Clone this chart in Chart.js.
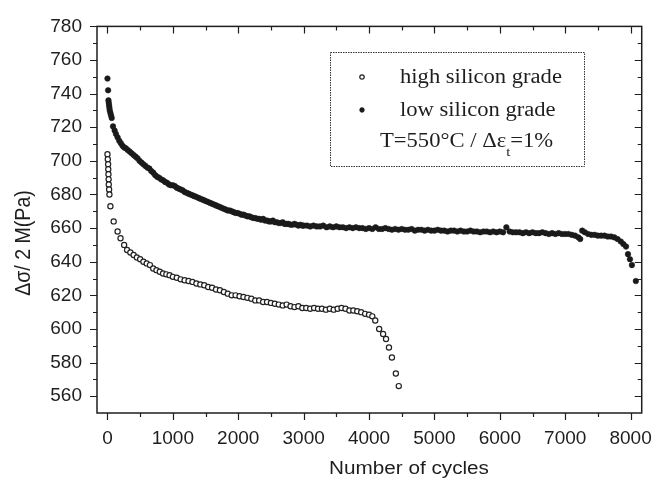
<!DOCTYPE html>
<html>
<head>
<meta charset="utf-8">
<script src="https://cdn.jsdelivr.net/npm/chart.js@4/dist/chart.umd.min.js"></script>
<style>
  body { margin: 0; background: #fff; }
  #myChart { display: block; }
</style>
</head>
<body>
<canvas id="myChart" width="666" height="484"></canvas>
<script>
// values
const lowCycles = [0, 10, 15, 20, 25, 30, 35, 45, 55, 65, 85, 110, 130, 155, 180, 205, 230, 255, 280, 310,
  340, 370, 400, 430, 460, 490, 520, 550, 580, 610, 640, 670, 700, 730, 760, 790, 820, 850, 880, 910,
  940, 970, 1000, 1030, 1060, 1090, 1120, 1150, 1180, 1210, 1240, 1270, 1300, 1330, 1360, 1390, 1420, 1450, 1480, 1510,
  1540, 1570, 1600, 1630, 1660, 1690, 1720, 1750, 1780, 1810, 1840, 1870, 1900, 1930, 1960, 1990, 2020, 2050, 2080, 2110,
  2140, 2170, 2200, 2230, 2260, 2290, 2320, 2350, 2380, 2410, 2440, 2470, 2500, 2530, 2560, 2590, 2620, 2650, 2680, 2710,
  2740, 2770, 2800, 2830, 2860, 2890, 2920, 2950, 2980, 3000, 3050, 3100, 3150, 3200, 3250, 3300, 3350, 3400, 3450, 3500,
  3550, 3600, 3650, 3700, 3750, 3800, 3850, 3900, 3950, 4000, 4050, 4100, 4150, 4200, 4250, 4300, 4350, 4400, 4450, 4500,
  4550, 4600, 4650, 4700, 4750, 4800, 4850, 4900, 4950, 5000, 5050, 5100, 5150, 5200, 5250, 5300, 5350, 5400, 5450, 5500,
  5550, 5600, 5650, 5700, 5750, 5800, 5850, 5900, 5950, 6000, 6050, 6100, 6150, 6200, 6250, 6300, 6350, 6400, 6450, 6500,
  6550, 6600, 6650, 6700, 6750, 6800, 6850, 6900, 6950, 7000, 7050, 7100, 7150, 7200, 7230, 7260, 7300, 7350, 7400, 7450,
  7500, 7550, 7600, 7650, 7700, 7750, 7800, 7850, 7890, 7930, 7960, 7990, 8020, 8080];
const lowStress = [749, 742, 736, 734.5, 733, 731.5, 730, 728.5, 727, 725.5, 720.5, 718, 716, 714, 712, 710.5, 709, 708, 707.5, 706.5,
  705.5, 704.5, 703.5, 702.5, 701.5, 700, 699, 698, 697, 696, 695.5, 694, 693, 691.5, 690.5, 690, 689, 688.5, 687.5, 687,
  686, 685.5, 685.5, 685, 684, 683.5, 683, 682.5, 681.5, 681, 680.5, 680, 679.5, 679, 678.5, 678, 677.5, 677, 676.5, 676,
  675.5, 675, 674.5, 674, 673.5, 673, 672.5, 672, 671.5, 671, 670.5, 670.5, 670, 669.5, 669, 669, 668.5, 668, 668, 667.5,
  667, 667, 666.5, 666, 666, 665.5, 665.5, 665, 665.5, 664.5, 664.5, 664, 664, 664.5, 663.5, 663.5, 663, 663, 663.5, 662.5,
  662.5, 662.5, 662, 662, 662.5, 662, 661.5, 662, 661.5, 661.5, 661.5, 661, 661.5, 661, 661, 661.5, 660.5, 661, 660.5, 661,
  660.5, 660.5, 660, 660.5, 660, 660.5, 660, 660, 659.5, 660, 659.5, 660.5, 659.5, 659.5, 660, 659.5, 659, 659.5, 659, 659.5,
  659, 659, 659.5, 658.5, 659, 659, 658.5, 659, 658.5, 658.5, 659, 658.5, 658.5, 658, 658.5, 658.5, 658, 658.5, 658, 658,
  658.5, 658, 658, 657.5, 658, 658, 657.5, 658, 657.5, 658, 657.5, 660.5, 658, 657.5, 657.5, 657.5, 657, 657.5, 657, 657.5,
  657, 657, 657.5, 657, 656.5, 657, 656.5, 657, 656.5, 656.5, 656.5, 656, 655.5, 654.5, 653.5, 658.5, 657.5, 656.5, 656, 656,
  655.5, 655.5, 655.5, 655, 655, 654.5, 653.5, 652, 650.5, 649, 644.5, 641.5, 638, 628.5];

const highCycles = [0, 5, 10, 12, 15, 18, 20, 25, 30, 45, 95, 155, 200, 255, 300, 350, 400, 450, 500, 550,
  600, 650, 700, 750, 800, 850, 900, 950, 1000, 1060, 1120, 1180, 1240, 1300, 1360, 1420, 1480, 1540, 1600, 1660,
  1720, 1780, 1840, 1900, 1960, 2020, 2080, 2140, 2200, 2260, 2320, 2380, 2440, 2500, 2560, 2620, 2680, 2740, 2800, 2860,
  2920, 2980, 3040, 3100, 3160, 3220, 3280, 3340, 3400, 3460, 3520, 3580, 3640, 3700, 3760, 3820, 3880, 3940, 4000, 4050,
  4095, 4155, 4215, 4260, 4305, 4350, 4410, 4455];
const highStress = [704, 701, 698, 695, 692, 689, 686, 683, 680, 673, 664, 658, 654, 650, 647, 645.5, 644, 642.5, 641.5, 640,
  639, 638, 636, 635, 634, 633, 632.5, 632, 631, 630.5, 629.5, 629, 628.5, 628, 627, 626.5, 626, 625, 624.5, 623.5,
  623, 622, 621, 620, 620, 619.5, 619, 618.5, 618, 617, 617, 616, 616, 615.5, 615, 614.5, 614, 614.5, 613.5, 613,
  613.5, 612.5, 612.5, 612, 612.5, 612, 612, 611.5, 612, 611.5, 612, 612.5, 612, 611, 611, 610.5, 610, 609, 608.5, 607.5,
  605, 600, 597, 594, 589, 583, 573.5, 566];

const xTickValues = [0, 1000, 2000, 3000, 4000, 5000, 6000, 7000, 8000];
const yTickValues = [560, 580, 600, 620, 640, 660, 680, 700, 720, 740, 760, 780];
const seriesNames = ['high silicon grade', 'low silicon grade'];
const conditionText = ['T=550°C / Δε', 't', '=1%'];

const toPoints = (xs, ys) => xs.map((x, i) => ({ x: x, y: ys[i] }));

const ink = '#1e1e1e';
const serif = '"Liberation Serif", "Times New Roman", serif';
const sans = '"Liberation Sans", Arial, sans-serif';

// frame, minor ticks, legend box and axis titles
const decorations = {
  id: 'decorations',
  afterDraw(chart) {
    const ctx = chart.ctx;
    const xs = chart.scales.x;
    const ys = chart.scales.y;
    const a = chart.chartArea;
    ctx.save();
    ctx.strokeStyle = ink;
    ctx.lineWidth = 1.5;
    ctx.strokeRect(a.left, a.top, a.right - a.left, a.bottom - a.top);

    // major ticks at the labels, minor ones halfway
    ctx.lineWidth = 1.2;
    ctx.beginPath();
    const xStep = xTickValues[1] - xTickValues[0];
    for (let v = xTickValues[0]; v <= xTickValues[xTickValues.length - 1]; v += xStep / 2) {
      const px = Math.round(xs.getPixelForValue(v)) + 0.5;
      const len = xTickValues.includes(v) ? 7 : 4;
      ctx.moveTo(px, a.bottom); ctx.lineTo(px, a.bottom + len);
      ctx.moveTo(px, a.top); ctx.lineTo(px, a.top + len);
    }
    const yStep = yTickValues[1] - yTickValues[0];
    for (let v = yTickValues[0]; v <= yTickValues[yTickValues.length - 1]; v += yStep / 2) {
      const py = Math.round(ys.getPixelForValue(v)) + 0.5;
      const len = yTickValues.includes(v) ? 7 : 4;
      ctx.moveTo(a.left, py); ctx.lineTo(a.left - len, py);
      ctx.moveTo(a.right, py); ctx.lineTo(a.right - len, py);
    }
    ctx.stroke();

    // legend box
    ctx.lineWidth = 1;
    ctx.setLineDash([1.5, 1]);
    ctx.strokeStyle = '#333';
    ctx.strokeRect(330.5, 52.5, 254, 114);
    ctx.setLineDash([]);

    const ds = chart.data.datasets;
    [77, 110].forEach((y, i) => {
      ctx.beginPath();
      ctx.arc(362, y, ds[i].pointRadius - 0.4, 0, Math.PI * 2);
      ctx.fillStyle = ds[i].backgroundColor;
      ctx.fill();
      ctx.lineWidth = ds[i].borderWidth;
      ctx.strokeStyle = ds[i].borderColor;
      ctx.stroke();
    });

    ctx.fillStyle = ink;
    ctx.textBaseline = 'alphabetic';
    ctx.textAlign = 'left';
    const stretched = (text, x, y, font) => {
      ctx.save();
      ctx.font = font;
      ctx.translate(x, y);
      ctx.scale(1.13, 1);
      ctx.fillText(text, 0, 0);
      const w = ctx.measureText(text).width * 1.13;
      ctx.restore();
      return w;
    };
    stretched(seriesNames[0], 400, 83, '20px ' + serif);
    stretched(seriesNames[1], 400, 116, '20px ' + serif);
    let tx = 380;
    tx += stretched(conditionText[0], tx, 147, '20px ' + serif);
    tx += stretched(conditionText[1], tx, 156, '13px ' + serif);
    stretched(conditionText[2], tx, 147, '20px ' + serif);

    // axis titles
    ctx.font = '18px ' + sans;
    ctx.textAlign = 'center';
    ctx.textBaseline = 'middle';
    ctx.save();
    ctx.translate(409, 469);
    ctx.scale(1.15, 1);
    ctx.fillText('Number of cycles', 0, 0);
    ctx.restore();

    ctx.save();
    ctx.font = '19px ' + sans;
    ctx.translate(24, 243);
    ctx.rotate(-Math.PI / 2);
    ctx.scale(1.03, 1.12);
    ctx.fillText('Δσ/ 2 M(Pa)', 0, 0);
    ctx.restore();

    ctx.restore();
  }
};

const ctx = document.getElementById('myChart').getContext('2d');
new Chart(ctx, {
  type: 'scatter',
  data: {
    datasets: [
      {
        label: seriesNames[0],
        data: toPoints(highCycles, highStress),
        pointStyle: 'circle',
        pointRadius: 2.6,
        backgroundColor: '#ffffff',
        borderColor: '#222',
        borderWidth: 1.2
      },
      {
        label: seriesNames[1],
        data: toPoints(lowCycles, lowStress),
        pointStyle: 'circle',
        pointRadius: 2.8,
        backgroundColor: '#1a1a1a',
        borderColor: '#1a1a1a',
        borderWidth: 0.5
      }
    ]
  },
  options: {
    responsive: false,
    animation: false,
    events: [],
    layout: { padding: { top: 19, right: 13, left: 0, bottom: 0 } },
    plugins: {
      legend: { display: false },
      tooltip: { enabled: false }
    },
    scales: {
      x: {
        type: 'linear',
        min: -160,
        max: 8170,
        grid: { display: false, drawTicks: false },
        border: { display: false },
        afterFit: (scale) => { scale.height = 71; },
        afterBuildTicks: (scale) => { scale.ticks = xTickValues.map((v) => ({ value: v })); },
        ticks: {
          autoSkip: false,
          maxRotation: 0,
          padding: 14,
          color: ink,
          font: { family: sans, size: 19 },
          callback: (v) => String(v)
        }
      },
      y: {
        type: 'linear',
        min: 550,
        max: 780,
        grid: { display: false, drawTicks: false },
        border: { display: false },
        afterFit: (scale) => { scale.width = 97; },
        afterBuildTicks: (scale) => { scale.ticks = yTickValues.map((v) => ({ value: v })); },
        ticks: {
          autoSkip: false,
          padding: 15,
          color: ink,
          font: { family: sans, size: 19 },
          callback: (v) => String(v)
        }
      }
    }
  },
  plugins: [decorations]
});
</script>
</body>
</html>
